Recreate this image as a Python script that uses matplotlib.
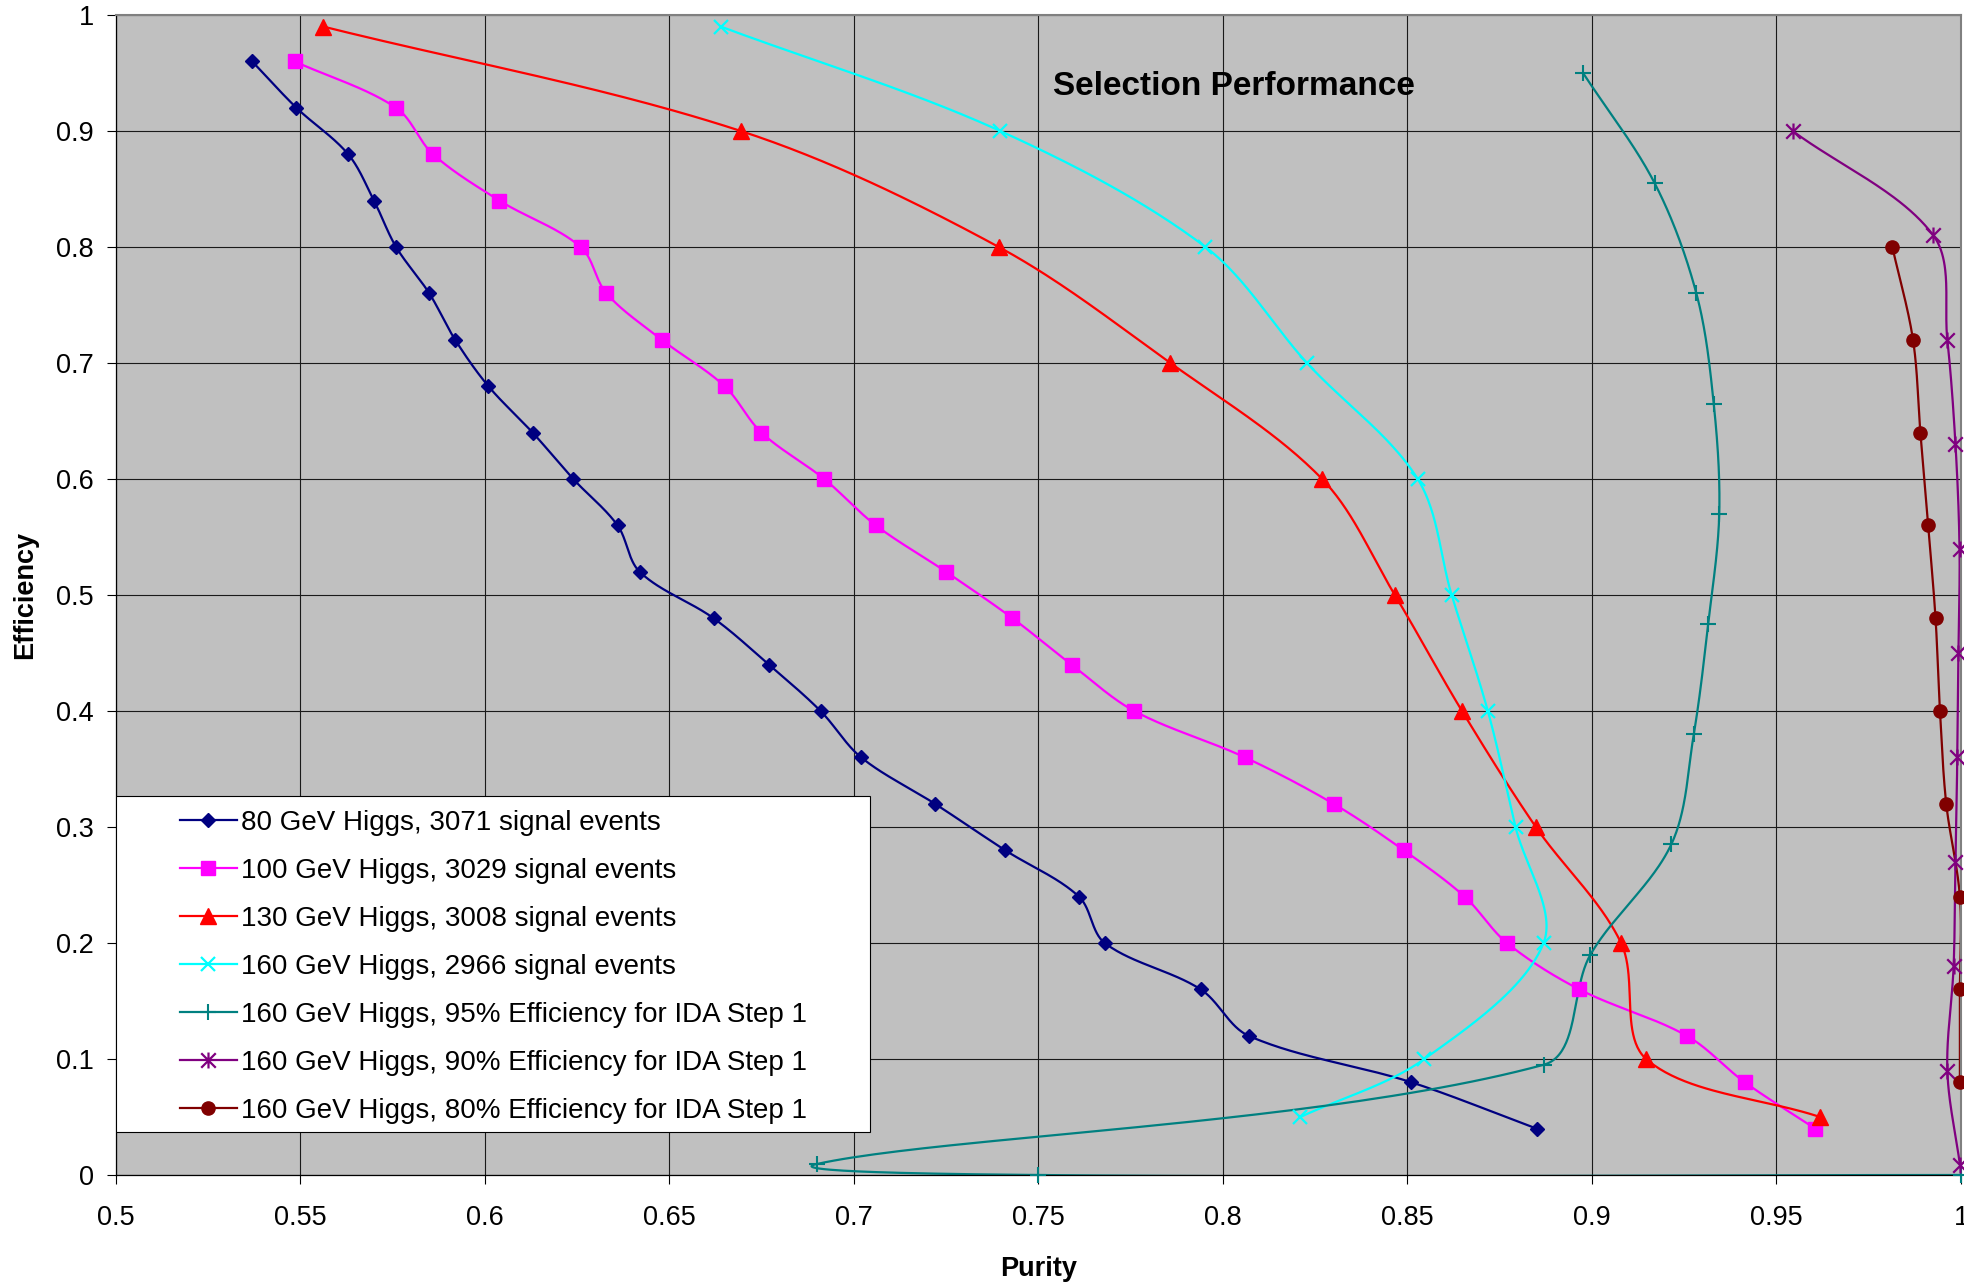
import numpy as np
import matplotlib
matplotlib.use('Agg')
import matplotlib.pyplot as plt
from matplotlib.path import Path
from matplotlib.lines import Line2D
from matplotlib.patches import Rectangle

plt.rcParams['font.family'] = ['Liberation Sans', 'DejaVu Sans']

# ---------------- data ----------------
labels = [
    "80 GeV Higgs, 3071 signal events",
    "100 GeV Higgs, 3029 signal events",
    "130 GeV Higgs, 3008 signal events",
    "160 GeV Higgs, 2966 signal events",
    "160 GeV Higgs, 95% Efficiency for IDA Step 1",
    "160 GeV Higgs, 90% Efficiency for IDA Step 1",
    "160 GeV Higgs, 80% Efficiency for IDA Step 1",
]

eff_80 = [0.96, 0.92, 0.88, 0.84, 0.80, 0.76, 0.72, 0.68, 0.64, 0.60, 0.56, 0.52,
          0.48, 0.44, 0.40, 0.36, 0.32, 0.28, 0.24, 0.20, 0.16, 0.12, 0.08, 0.04]
pur_80 = [0.537, 0.549, 0.563, 0.570, 0.576, 0.585, 0.592, 0.601, 0.613, 0.624, 0.636, 0.642,
          0.662, 0.677, 0.691, 0.702, 0.722, 0.741, 0.761, 0.768, 0.794, 0.807, 0.851, 0.885]

eff_100 = [0.96, 0.92, 0.88, 0.84, 0.80, 0.76, 0.72, 0.68, 0.64, 0.60, 0.56, 0.52,
           0.48, 0.44, 0.40, 0.36, 0.32, 0.28, 0.24, 0.20, 0.16, 0.12, 0.08, 0.04]
pur_100 = [0.5485, 0.576, 0.586, 0.604, 0.626, 0.633, 0.648, 0.665, 0.675, 0.692, 0.706, 0.725,
           0.743, 0.759, 0.776, 0.806, 0.830, 0.849, 0.8655, 0.877, 0.8966, 0.9257, 0.9414, 0.9605]

eff_130 = [0.99, 0.90, 0.80, 0.70, 0.60, 0.50, 0.40, 0.30, 0.20, 0.10, 0.05]
pur_130 = [0.5563, 0.6694, 0.7393, 0.7858, 0.8269, 0.8466, 0.8648, 0.8848, 0.9079, 0.9147, 0.9618]

eff_160 = [0.99, 0.90, 0.80, 0.70, 0.60, 0.50, 0.40, 0.30, 0.20, 0.10, 0.05]
pur_160 = [0.664, 0.7397, 0.7953, 0.8228, 0.8528, 0.862, 0.8718, 0.8793, 0.8869, 0.8546, 0.821]

eff_s95 = [0.95, 0.855, 0.76, 0.665, 0.57, 0.475, 0.38, 0.285, 0.19, 0.095, 0.0095, 0.0, 0.0]
pur_s95 = [0.8976, 0.917, 0.9283, 0.933, 0.9345, 0.9315, 0.9276, 0.9215, 0.8996, 0.8869, 0.690, 0.750, 1.0]

eff_s90 = [0.90, 0.81, 0.72, 0.63, 0.54, 0.45, 0.36, 0.27, 0.18, 0.09, 0.009]
pur_s90 = [0.9544, 0.9925, 0.9963, 0.9985, 0.9996, 0.9993, 0.9990, 0.9985, 0.9980, 0.9963, 0.9997]

eff_s80 = [0.80, 0.72, 0.64, 0.56, 0.48, 0.40, 0.32, 0.24, 0.16, 0.08]
pur_s80 = [0.9814, 0.9870, 0.9890, 0.9911, 0.9931, 0.9943, 0.9960, 0.9997, 0.9997, 0.9997]

x_ticklabels = ['0.5', '0.55', '0.6', '0.65', '0.7', '0.75', '0.8', '0.85', '0.9', '0.95', '1']
y_ticklabels = ['0', '0.1', '0.2', '0.3', '0.4', '0.5', '0.6', '0.7', '0.8', '0.9', '1']

# ---------------- figure ----------------
W, H = 1965, 1285
fig = plt.figure(figsize=(W / 100, H / 100), dpi=100)
L, R, T, B = 115.6, 1961, 15, 1175
ax = fig.add_axes([L / W, 1 - B / H, (R - L) / W, (B - T) / H])
ax.set_xlim(0.5, 1.0)
ax.set_ylim(0.0, 1.0)
ax.set_facecolor('#C0C0C0')

ax.set_xticks(np.linspace(0.5, 1.0, len(x_ticklabels)))
ax.set_xticklabels(x_ticklabels)
ax.set_yticks(np.linspace(0.0, 1.0, len(y_ticklabels)))
ax.set_yticklabels(y_ticklabels)
ax.tick_params(axis='both', direction='out', length=6.5, width=0.8, color='black',
               labelsize=19.5)
ax.tick_params(axis='x', pad=15)
ax.tick_params(axis='y', pad=9)
ax.grid(True, color='#1a1a1a', lw=0.8)
ax.set_axisbelow(True)
for s in ['top', 'right']:
    ax.spines[s].set_color('#808080')
    ax.spines[s].set_linewidth(1.5)
for s in ['left', 'bottom']:
    ax.spines[s].set_color('black')
    ax.spines[s].set_linewidth(0.9)


# Excel-like smoothed line (Bezier through points, computed in display space,
# handles scaled by adjacent segment lengths)
def smooth(x, y, n=50):
    pts = ax.transData.transform(np.column_stack([x, y]))
    m = len(pts)
    h_in = np.zeros_like(pts)
    h_out = np.zeros_like(pts)
    for i in range(m):
        pp = pts[i - 1] if i > 0 else pts[i]
        pn = pts[i + 1] if i < m - 1 else pts[i]
        tang = pn - pp
        dp = np.hypot(*(pts[i] - pp))
        dn = np.hypot(*(pn - pts[i]))
        s = dp + dn
        if s > 0:
            h_out[i] = tang * dn / s / 3.0
            h_in[i] = tang * dp / s / 3.0
    out = [pts[0]]
    t = np.linspace(0, 1, n)[1:, None]
    for i in range(m - 1):
        p1 = pts[i]
        p2 = pts[i + 1]
        c1 = p1 + h_out[i]
        c2 = p2 - h_in[i + 1]
        b = (1 - t) ** 3 * p1 + 3 * (1 - t) ** 2 * t * c1 + 3 * (1 - t) * t ** 2 * c2 + t ** 3 * p2
        out.extend(b)
    out = np.array(out)
    d = ax.transData.inverted().transform(out)
    return d[:, 0], d[:, 1]


star = Path([(-0.5, -0.5), (0.5, 0.5), (-0.5, 0.5), (0.5, -0.5), (0, -0.55), (0, 0.55)],
            [Path.MOVETO, Path.LINETO, Path.MOVETO, Path.LINETO, Path.MOVETO, Path.LINETO])

series = [
    (pur_80, eff_80, '#000080', dict(marker='D', ms=7, mfc='#000080', mec='#000080', mew=1)),
    (pur_100, eff_100, '#FF00FF', dict(marker='s', ms=10, mfc='#FF00FF', mec='#FF00FF', mew=1)),
    (pur_130, eff_130, '#FF0000', dict(marker='^', ms=11, mfc='#FF0000', mec='#FF0000', mew=1)),
    (pur_160, eff_160, '#00FFFF', dict(marker='x', ms=10, mec='#00FFFF', mew=1.6)),
    (pur_s95, eff_s95, '#008080', dict(marker='+', ms=11, mec='#008080', mew=1.5)),
    (pur_s90, eff_s90, '#800080', dict(marker=star, ms=11.5, mfc='none', mec='#800080', mew=1.6)),
    (pur_s80, eff_s80, '#800000', dict(marker='o', ms=9.5, mfc='#800000', mec='#800000', mew=1)),
]

handles = []
for x, y, c, mk in series:
    sx, sy = smooth(x, y)
    ax.plot(sx, sy, color=c, lw=1.6, zorder=2, solid_capstyle='round')
    ax.plot(x, y, ls='none', zorder=3, clip_on=False, **mk)
    handles.append(Line2D([], [], color=c, lw=1.6, **mk))

ax.text(0.803, 0.938, 'Selection Performance', fontsize=24, fontweight='bold',
        ha='center', va='center', zorder=6)

# legend box
ax.add_patch(Rectangle((0.0, 0.037), 0.4087, 0.2897, transform=ax.transAxes,
                       facecolor='white', edgecolor='black', lw=0.8, zorder=4))
leg = ax.legend(handles, labels, loc='upper left', bbox_to_anchor=(0.0349, 0.3146),
                borderaxespad=0, borderpad=0, frameon=False, fontsize=20,
                handlelength=2.05, handletextpad=0.16, labelspacing=0.79)
leg.set_zorder(5)

ax.set_xlabel('Purity', fontsize=19.5, fontweight='bold')
ax.xaxis.set_label_coords(0.5, (B - 1268.5) / (B - T))
ax.xaxis.label.set_va('center')
ax.set_ylabel('Efficiency', fontsize=19.5, fontweight='bold')
ax.yaxis.set_label_coords((25 - L) / (R - L), 0.5)
ax.yaxis.label.set_va('center')

fig.savefig('out.png', dpi=100, facecolor='white')
